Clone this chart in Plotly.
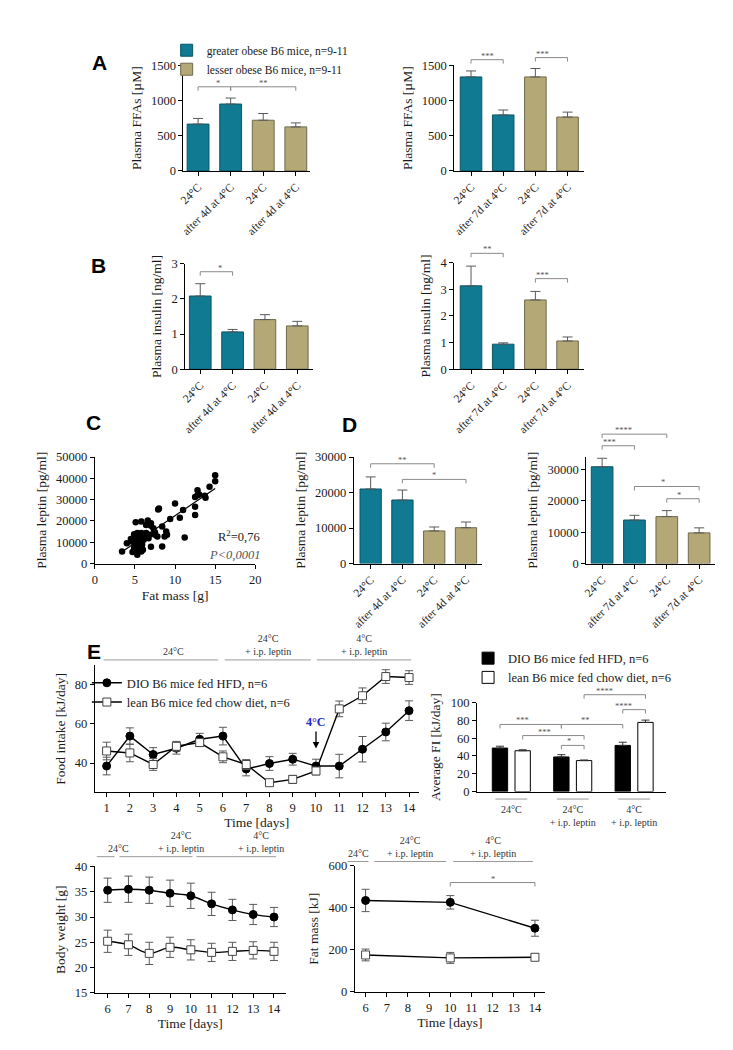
import numpy as np
import plotly.graph_objects as go

W, H = 733, 1050
SERIF = "Liberation Serif"
TEAL, TEAL_EDGE = "#0f7a92", "#0b5566"
KHAKI, KHAKI_EDGE = "#b3a876", "#6f6a4b"
ERR = "#5a5a5a"
BRACKET = "#8a8a8a"

# ── data ────────────────────────────────────────────────────────
labels_4d = ["24°C", "after 4d at 4°C", "24°C", "after 4d at 4°C"]
labels_7d = ["24°C", "after 7d at 4°C", "24°C", "after 7d at 4°C"]
groups = ["greater obese B6 mice, n=9-11", "greater obese B6 mice, n=9-11",
          "lesser obese B6 mice, n=9-11", "lesser obese B6 mice, n=9-11"]

ffa_4d = [665, 950, 720, 625]
ffa_4d_err = [80, 85, 95, 57]
ffa_7d = [1335, 795, 1335, 765]
ffa_7d_err = [85, 70, 120, 70]
insulin_4d = [2.08, 1.06, 1.41, 1.23]
insulin_4d_err = [0.35, 0.07, 0.14, 0.13]
insulin_7d = [3.13, 0.94, 2.60, 1.06]
insulin_7d_err = [0.74, 0.05, 0.32, 0.15]
leptin_4d = [21000, 17900, 9200, 10100]
leptin_4d_err = [3400, 2800, 1100, 1600]
leptin_7d = [30900, 13900, 15000, 9800]
leptin_7d_err = [2700, 1500, 1900, 1600]

# significance brackets: (from bar, to bar, height, stars)
sig_ffa_4d = [(0, 1, 1195, "*"), (1, 3, 1195, "**")]
sig_ffa_7d = [(0, 1, 1580, "***"), (2, 3, 1610, "***")]
sig_ins_4d = [(0, 1, 2.77, "*")]
sig_ins_7d = [(0, 1, 4.35, "**"), (2, 3, 3.40, "***")]
sig_lep_4d = [(0, 2, 28100, "**"), (1, 3, 23700, "*")]
sig_lep_7d = [(0, 2, 41300, "****"), (0, 1, 37600, "***"),
              (1, 3, 24600, "*"), (2, 3, 20700, "*")]

fat_mass_g = [3.4, 4.0, 4.5, 5.1, 5.0, 5.2, 5.3, 5.5, 5.8, 7.9, 8.0, 7.0, 7.0, 8.4,
              8.4, 8.9, 9.0, 8.7, 9.4, 10.0, 10.6, 11.0, 11.2, 12.5, 12.5, 12.5,
              12.8, 13.0, 12.8, 13.7, 13.8, 14.3, 15.0, 15.0, 4.6, 4.8, 4.9, 5.1,
              5.2, 5.3, 5.5, 5.6, 5.7, 5.8, 5.9, 6.0, 6.1, 6.2, 6.4, 6.4, 6.6, 6.6,
              6.7, 6.8, 7.0, 7.3, 7.5, 7.5, 7.8, 5.5, 5.1, 4.9, 4.7, 5.6, 5.8]
leptin_pg = [5700, 9600, 11500, 19400, 9200, 7600, 4200, 6500, 19700, 25400, 25900,
             17700, 7900, 8000, 17400, 15000, 13500, 12700, 20900, 28200, 21500,
             25100, 12200, 22800, 26700, 31300, 34400, 32400, 32100, 31800, 30900,
             36100, 41400, 38600, 10400, 11900, 13800, 12700, 11200, 14300, 13800,
             11900, 10400, 14300, 8800, 6500, 11200, 13500, 14300, 18100, 18900,
             20200, 11900, 13500, 18900, 16600, 13500, 14700, 12700, 8800, 6000,
             7300, 5400, 7300, 5700]

days = list(range(1, 15))
fi_dio = [38.5, 53.8, 44.4, 47.6, 52.2, 53.8, 37.0, 39.8, 42.0, 38.5, 38.5, 47.1, 55.9, 66.8]
fi_dio_err = [4.5, 4.2, 3.5, 3.0, 3.0, 4.5, 3.5, 3.5, 3.0, 3.5, 6.0, 6.5, 4.5, 5.0]
fi_lean = [46.2, 45.2, 39.3, 48.6, 50.5, 43.2, 39.3, 30.0, 31.7, 36.0, 67.7, 74.4, 84.2, 83.7]
fi_lean_err = [4.5, 4.5, 3.0, 2.5, 2.0, 3.0, 2.5, 1.5, 2.0, 2.0, 4.0, 4.0, 3.5, 3.5]

fi_conditions = ["24°C", "24°C<br>+ i.p. leptin", "4°C<br>+ i.p. leptin"]
avg_fi_dio = [48.9, 38.9, 51.9]
avg_fi_dio_err = [2.1, 2.6, 3.6]
avg_fi_lean = [45.9, 34.8, 77.8]
avg_fi_lean_err = [1.1, 0.7, 2.6]
sig_avg_fi = [(0, 1, 75.5, "***", "dio", "dio"), (1, 2, 75.5, "**", "dio", "dio"),
              (0, 1, 63.0, "***", "lean", "lean"), (1, 1, 51.9, "*", "dio", "lean"),
              (2, 2, 92.2, "****", "dio", "lean"), (1, 2, 109.0, "****", "lean", "lean")]

bw_days = list(range(6, 15))
bw_dio = [35.3, 35.5, 35.3, 34.7, 34.2, 32.6, 31.4, 30.5, 30.0]
bw_dio_err = [2.4, 2.6, 2.6, 2.6, 2.5, 2.3, 2.1, 2.0, 1.9]
bw_lean = [25.2, 24.5, 22.8, 24.0, 23.5, 23.0, 23.2, 23.4, 23.2]
bw_lean_err = [2.2, 2.1, 2.2, 2.0, 2.0, 1.8, 1.8, 1.7, 1.8]

fm_days = [6, 10, 14]
fm_dio = [434, 425, 302]
fm_dio_err = [53, 32, 38]
fm_lean = [175, 161, 164]
fm_lean_err = [28, 26, 15]

period_labels = ["24°C", "24°C<br>+ i.p. leptin", "4°C<br>+ i.p. leptin"]
fi_periods = [(0.87, 5.79), (6.08, 9.77), (10.03, 14.1)]
bw_periods = [(5.48, 6.33), (6.57, 10.08), (10.27, 14.1)]
fm_periods = [(5.16, 6.14), (6.42, 9.81), (10.14, 13.9)]

DIO_NAME = "DIO B6 mice fed HFD, n=6"
LEAN_NAME = "lean B6 mice fed chow diet, n=6"

# ── panel geometry (pixel box: left, right, top, bottom) ───────
PANELS = {
    "a1": dict(n=1, box=(173, 302, 51, 158), xr=(-0.45, 3.45), yr=(0, 1500)),
    "a2": dict(n=2, box=(448, 580, 51, 158), xr=(-0.52, 3.52), yr=(0, 1500)),
    "b1": dict(n=3, box=(175, 305, 252, 359), xr=(-0.46, 3.5), yr=(0, 3)),
    "b2": dict(n=4, box=(448, 580, 251, 359), xr=(-0.52, 3.52), yr=(0, 4)),
    "c": dict(n=5, box=(83, 246, 448, 556), xr=(0, 20), yr=(0, 50000)),
    "d1": dict(n=6, box=(346, 476, 448, 556), xr=(-0.53, 3.5), yr=(0, 30000)),
    "d2": dict(n=7, box=(582, 713, 448, 556), xr=(-0.49, 3.5), yr=(0, 34000)),
    "e1": dict(n=8, box=(83, 412, 659, 788), xr=(0.49, 14.42), yr=(25, 90)),
    "e2": dict(n=9, box=(471, 663, 697, 787), xr=(-0.56, 2.52), yr=(0, 100)),
    "e3": dict(n=10, box=(83, 277, 863, 991), xr=(5.38, 14.57), yr=(15, 40)),
    "e4": dict(n=11, box=(347, 540, 862, 990), xr=(5.49, 14.47), yr=(0, 600)),
}

fig = go.Figure()


def ref(p):
    n = PANELS[p]["n"]
    s = "" if n == 1 else str(n)
    return "x" + s, "y" + s


def to_paper(p, x, y):
    x0, x1, yt, yb = PANELS[p]["box"]
    xr, yr = PANELS[p]["xr"], PANELS[p]["yr"]
    px = x0 + (x - xr[0]) / (xr[1] - xr[0]) * (x1 - x0)
    py = yb - (y - yr[0]) / (yr[1] - yr[0]) * (yb - yt)
    return px / W, 1 - py / H


def bracket(p, xa, xb, y, label, drop=4):
    (u0, v), (u1, _) = to_paper(p, xa, y), to_paper(p, xb, y)
    d = drop / H
    fig.add_shape(type="path", xref="paper", yref="paper",
                  path=f"M{u0},{v - d} L{u0},{v} L{u1},{v} L{u1},{v - d}",
                  line=dict(color=BRACKET, width=1))
    fig.add_annotation(x=(u0 + u1) / 2, y=v, xref="paper", yref="paper", text=label,
                       showarrow=False, yanchor="bottom", yshift=-3,
                       font=dict(size=8.5, color="#555"))


def periods(p, spans, y_line):
    for (a, b), lab in zip(spans, period_labels):
        (u0, v), (u1, _) = to_paper(p, a, y_line), to_paper(p, b, y_line)
        fig.add_shape(type="line", xref="paper", yref="paper", x0=u0, x1=u1, y0=v, y1=v,
                      line=dict(color="#9a9a9a", width=1))
        fig.add_annotation(x=(u0 + u1) / 2, y=v, xref="paper", yref="paper", text=lab,
                           showarrow=False, yanchor="bottom", yshift=1,
                           font=dict(size=10, color="#333"))


def bar_panel(p, labels, vals, errs, sigs, legend=False):
    xa, ya = ref(p)
    for name, col, edge, idx in ((groups[0], TEAL, TEAL_EDGE, [0, 1]),
                                  (groups[2], KHAKI, KHAKI_EDGE, [2, 3])):
        fig.add_trace(go.Bar(
            x=idx, y=[vals[i] for i in idx], width=0.67, offset=-0.335, name=name,
            marker=dict(color=col, line=dict(color=edge, width=1)),
            error_y=dict(type="data", symmetric=False, array=[errs[i] for i in idx],
                         arrayminus=[0, 0], color=ERR, thickness=1, width=5),
            showlegend=legend, legend="legend", xaxis=xa, yaxis=ya,
        ))
    for a, b, y, s in sigs:
        bracket(p, a, b, y, s)


def line_series(p, x, y, err, name, dio, legend=None, shape="linear"):
    xa, ya = ref(p)
    fig.add_trace(go.Scatter(
        x=x, y=y, name=name, mode="lines+markers", line_shape=shape,
        line=dict(color="black", width=1.4),
        marker=dict(symbol="circle" if dio else "square", size=8,
                    color="black" if dio else "white",
                    line=dict(color="black" if dio else "#444", width=1)),
        error_y=dict(type="data", array=err, color=ERR, thickness=1, width=4),
        showlegend=legend is not None, legend=legend or "legend2", xaxis=xa, yaxis=ya,
    ))


# ── A, B, D: bar panels ─────────────────────────────────────────
bar_panel("a1", labels_4d, ffa_4d, ffa_4d_err, sig_ffa_4d, legend=True)
bar_panel("a2", labels_7d, ffa_7d, ffa_7d_err, sig_ffa_7d)
bar_panel("b1", labels_4d, insulin_4d, insulin_4d_err, sig_ins_4d)
bar_panel("b2", labels_7d, insulin_7d, insulin_7d_err, sig_ins_7d)
bar_panel("d1", labels_4d, leptin_4d, leptin_4d_err, sig_lep_4d)
bar_panel("d2", labels_7d, leptin_7d, leptin_7d_err, sig_lep_7d)

# ── C: scatter with regression ──────────────────────────────────
xa, ya = ref("c")
fig.add_trace(go.Scatter(x=fat_mass_g, y=leptin_pg, mode="markers", showlegend=False,
                         marker=dict(color="black", size=6.5), xaxis=xa, yaxis=ya))
slope, icpt = np.polyfit(fat_mass_g, leptin_pg, 1)
fit_x = [min(fat_mass_g), max(fat_mass_g)]
fig.add_trace(go.Scatter(x=fit_x, y=[slope * v + icpt for v in fit_x], mode="lines",
                         line=dict(color="black", width=1.2), showlegend=False,
                         xaxis=xa, yaxis=ya))
u, v = to_paper("c", 20.8, 13000)
fig.add_annotation(x=u, y=v, xref="paper", yref="paper", text="R<sup>2</sup>=0,76",
                   showarrow=False, xanchor="right", font=dict(size=12.5, color="#222"))
u, v = to_paper("c", 20.8, 3800)
fig.add_annotation(x=u, y=v, xref="paper", yref="paper", text="<i>P&lt;0,0001</i>",
                   showarrow=False, xanchor="right", font=dict(size=12.5, color="#555"))

# ── E: food intake over time ────────────────────────────────────
line_series("e1", days, fi_dio, fi_dio_err, DIO_NAME, True, legend="legend2")
line_series("e1", days, fi_lean, fi_lean_err, LEAN_NAME, False, legend="legend2")
periods("e1", fi_periods, 92.7)
xa, ya = ref("e1")
fig.add_annotation(x=10, y=47.5, xref=xa, yref=ya, text="<b>4°C</b>", showarrow=True,
                   arrowhead=2, arrowsize=1, arrowwidth=1.3, arrowcolor="black",
                   ax=0, ay=-17, yanchor="bottom", font=dict(size=12, color="#2525c8"))

# ── E: average food intake ──────────────────────────────────────
xa, ya = ref("e2")
fig.add_trace(go.Bar(x=[0, 1, 2], y=avg_fi_dio, width=0.25, offset=-0.31, name=DIO_NAME,
                     marker=dict(color="black", line=dict(color="black", width=1)),
                     error_y=dict(type="data", symmetric=False, array=avg_fi_dio_err,
                                  arrayminus=[0, 0, 0], color="#333", thickness=1, width=4),
                     legend="legend3", xaxis=xa, yaxis=ya))
fig.add_trace(go.Bar(x=[0, 1, 2], y=avg_fi_lean, width=0.25, offset=0.06, name=LEAN_NAME,
                     marker=dict(color="white", line=dict(color="black", width=1)),
                     error_y=dict(type="data", symmetric=False, array=avg_fi_lean_err,
                                  arrayminus=[0, 0, 0], color="#333", thickness=1, width=4),
                     legend="legend3", xaxis=xa, yaxis=ya))
side = {"dio": -0.185, "lean": 0.185}
for a, b, y, s, sa, sb in sig_avg_fi:
    bracket("e2", a + side[sa], b + side[sb], y, s)
for g in range(len(fi_conditions)):
    (u0, v), (u1, _) = to_paper("e2", g - 0.26, -8.5), to_paper("e2", g + 0.26, -8.5)
    fig.add_shape(type="line", xref="paper", yref="paper", x0=u0, x1=u1, y0=v, y1=v,
                  line=dict(color="#9a9a9a", width=1))

# ── E: body weight and fat mass ─────────────────────────────────
line_series("e3", bw_days, bw_dio, bw_dio_err, DIO_NAME, True, shape="spline")
line_series("e3", bw_days, bw_lean, bw_lean_err, LEAN_NAME, False, shape="spline")
periods("e3", bw_periods, 41.95)
line_series("e4", fm_days, fm_dio, fm_dio_err, DIO_NAME, True)
line_series("e4", fm_days, fm_lean, fm_lean_err, LEAN_NAME, False)
periods("e4", fm_periods, 619)
bracket("e4", 10, 14, 519, "*")

# ── axes ────────────────────────────────────────────────────────
TICKFONT = dict(family=SERIF, size=12.5, color="#1a1a1a")
TITLEFONT = dict(family=SERIF, size=13.5, color="#1a1a1a")
axis_base = dict(showline=True, linecolor="black", linewidth=1, ticks="outside",
                 ticklen=4, tickwidth=1, tickcolor="black", showgrid=False,
                 zeroline=False, tickfont=TICKFONT, title_font=TITLEFONT, fixedrange=True)

y_titles = {"a1": "Plasma FFAs [µM]", "a2": "Plasma FFAs [µM]",
            "b1": "Plasma insulin [ng/ml]", "b2": "Plasma insulin [ng/ml]",
            "c": "Plasma leptin [pg/ml]", "d1": "Plasma leptin [pg/ml]",
            "d2": "Plasma leptin [pg/ml]", "e1": "Food intake [kJ/day]",
            "e2": "Average FI [kJ/day]", "e3": "Body weight [g]", "e4": "Fat mass [kJ]"}
y_ticks = {"a1": [0, 500, 1000, 1500], "a2": [0, 500, 1000, 1500], "b1": [0, 1, 2, 3],
           "b2": [0, 1, 2, 3, 4], "c": [0, 10000, 20000, 30000, 40000, 50000],
           "d1": [0, 10000, 20000, 30000], "d2": [0, 10000, 20000, 30000],
           "e1": [40, 60, 80], "e2": [0, 20, 40, 60, 80, 100],
           "e3": [15, 20, 25, 30, 35, 40], "e4": [0, 200, 400, 600]}
x_ticklabels = {"a1": labels_4d, "a2": labels_7d, "b1": labels_4d, "b2": labels_7d,
                "d1": labels_4d, "d2": labels_7d}

layout_axes = {}
for p, cfg in PANELS.items():
    n = cfg["n"]
    s = "" if n == 1 else str(n)
    x0, x1, yt, yb = cfg["box"]
    xax = dict(axis_base, domain=[x0 / W, x1 / W], range=list(cfg["xr"]), anchor="y" + s)
    yax = dict(axis_base, domain=[1 - yb / H, 1 - yt / H], range=list(cfg["yr"]),
               anchor="x" + s, tickvals=y_ticks[p], tickformat="d",
               title_text=y_titles[p], title_standoff=6)
    if p in x_ticklabels:
        xax.update(tickvals=[0, 1, 2, 3], ticktext=x_ticklabels[p], tickangle=-45,
                   tickfont=dict(family=SERIF, size=11.5, color="#1a1a1a"))
    elif p == "c":
        xax.update(tickvals=[0, 5, 10, 15, 20], title_text="Fat mass [g]", title_standoff=4)
    elif p == "e1":
        xax.update(tickvals=days, title_text="Time [days]", title_standoff=2)
    elif p == "e2":
        xax.update(tickvals=[0, 1, 2], ticktext=fi_conditions, ticks="",
                   ticklabelstandoff=8, tickfont=dict(family=SERIF, size=10, color="#333"))
    else:
        xax.update(tickvals=bw_days, title_text="Time [days]", title_standoff=2)
    layout_axes["xaxis" + s] = xax
    layout_axes["yaxis" + s] = yax

# ── panel letters ───────────────────────────────────────────────
for letter, (px, py) in {"A": (78, 34), "B": (77, 240), "C": (72, 413),
                         "D": (342, 415), "E": (73, 645)}.items():
    fig.add_annotation(x=px / W, y=1 - py / H, xref="paper", yref="paper", text=letter,
                       showarrow=False, font=dict(family="Liberation Sans", size=21,
                                                  color="black", weight="bold"))

legend_base = dict(xanchor="left", yanchor="top", bgcolor="rgba(0,0,0,0)",
                   tracegroupgap=0, itemwidth=30)
fig.update_layout(
    width=W, height=H, margin=dict(l=0, r=0, t=0, b=0),
    paper_bgcolor="white", plot_bgcolor="white",
    font=dict(family=SERIF, size=11, color="#222"),
    barmode="overlay", showlegend=True,
    legend=dict(legend_base, x=156 / W, y=1 - 21 / H,
                font=dict(family=SERIF, size=11.5, color="#1a1a1a")),
    legend2=dict(legend_base, x=75 / W, y=1 - 662 / H,
                 font=dict(family=SERIF, size=12.5, color="#1a1a1a")),
    legend3=dict(legend_base, x=462 / W, y=1 - 637 / H,
                 font=dict(family=SERIF, size=12.5, color="#1a1a1a")),
    **layout_axes,
)

fig.write_html("out.html")
